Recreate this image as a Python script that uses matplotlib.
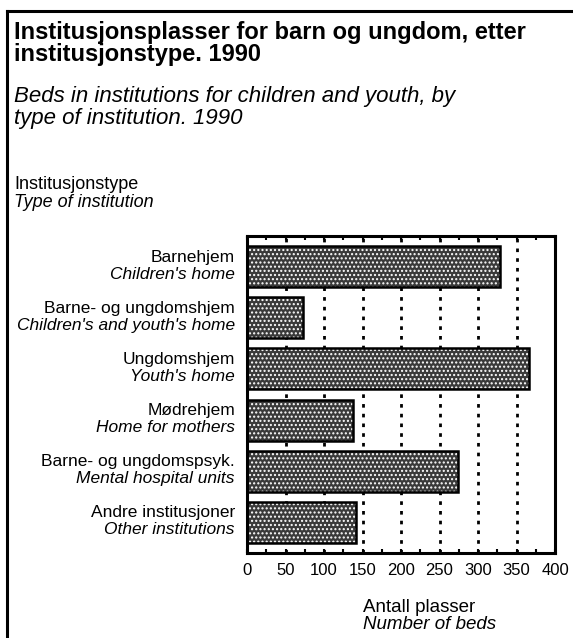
import matplotlib.pyplot as plt
from matplotlib.lines import Line2D

plt.rcParams["font.family"] = ["Liberation Sans", "DejaVu Sans"]

# data
labels_no = ["Barnehjem", "Barne- og ungdomshjem", "Ungdomshjem",
             "Mødrehjem", "Barne- og ungdomspsyk.", "Andre institusjoner"]
labels_en = ["Children's home", "Children's and youth's home", "Youth's home",
             "Home for mothers", "Mental hospital units", "Other institutions"]
plasser = [328, 73, 366, 138, 274, 142]
xticks = [0, 50, 100, 150, 200, 250, 300, 350, 400]

W, H = 573, 638
fig = plt.figure(figsize=(W / 100, H / 100), dpi=100)

def fx(px):
    return px / W

def fy(py):
    return 1 - py / H

# outer frame (left + top)
fig.add_artist(Line2D([fx(7), fx(7)], [fy(11), fy(638)], color="black", lw=2.2,
                      transform=fig.transFigure))
fig.add_artist(Line2D([fx(7), fx(573)], [fy(11), fy(11)], color="black", lw=2.2,
                      transform=fig.transFigure))

# titles
fig.text(fx(14), fy(39), "Institusjonsplasser for barn og ungdom, etter",
         fontsize=17, fontweight="bold", va="baseline", ha="left")
fig.text(fx(14), fy(61), "institusjonstype. 1990",
         fontsize=17, fontweight="bold", va="baseline", ha="left")
fig.text(fx(14), fy(102), "Beds in institutions for children and youth, by",
         fontsize=16, style="italic", va="baseline", ha="left")
fig.text(fx(14), fy(124), "type of institution. 1990",
         fontsize=16, style="italic", va="baseline", ha="left")
fig.text(fx(14), fy(189), "Institusjonstype", fontsize=13, va="baseline", ha="left")
fig.text(fx(14), fy(207), "Type of institution", fontsize=13, style="italic",
         va="baseline", ha="left")

# axes
ax = fig.add_axes([fx(247), fy(553), fx(555) - fx(247), (553 - 236) / H])
y = list(range(len(plasser)))
for xv in xticks[1:-1]:
    ax.axvline(xv, color="black", lw=2, ls=(0, (1.3, 2.2)), zorder=0)
ax.barh(y, plasser, height=0.8, color="#3a3a3a", edgecolor="white",
        hatch="....", lw=0, zorder=2)
ax.barh(y, plasser, height=0.8, fill=False, edgecolor="black", lw=1.8, zorder=3)
ax.set_xlim(0, 400)
ax.set_ylim(len(plasser) - 0.4, -0.6)
ax.set_xticks(xticks)
ax.set_xticks(range(25, 400, 50), minor=True)
ax.set_xticklabels([str(v) for v in xticks], fontsize=12)
ax.tick_params(axis="x", which="both", direction="in", length=3, width=1.5,
               top=True, pad=7)
ax.set_yticks([])
for s in ax.spines.values():
    s.set_linewidth(2.2)

for i, (no, en) in enumerate(zip(labels_no, labels_en)):
    ax.annotate(no, xy=(0, i), xycoords=("axes fraction", "data"),
                xytext=(-12, 5), textcoords="offset pixels",
                ha="right", va="baseline", fontsize=12.5)
    ax.annotate(en, xy=(0, i), xycoords=("axes fraction", "data"),
                xytext=(-12, -12), textcoords="offset pixels",
                ha="right", va="baseline", fontsize=12.5, style="italic")

fig.text(fx(363), fy(612), "Antall plasser", fontsize=13.5, va="baseline", ha="left")
fig.text(fx(363), fy(629), "Number of beds", fontsize=13.5, style="italic",
         va="baseline", ha="left")

fig.savefig("out.png", dpi=100)
